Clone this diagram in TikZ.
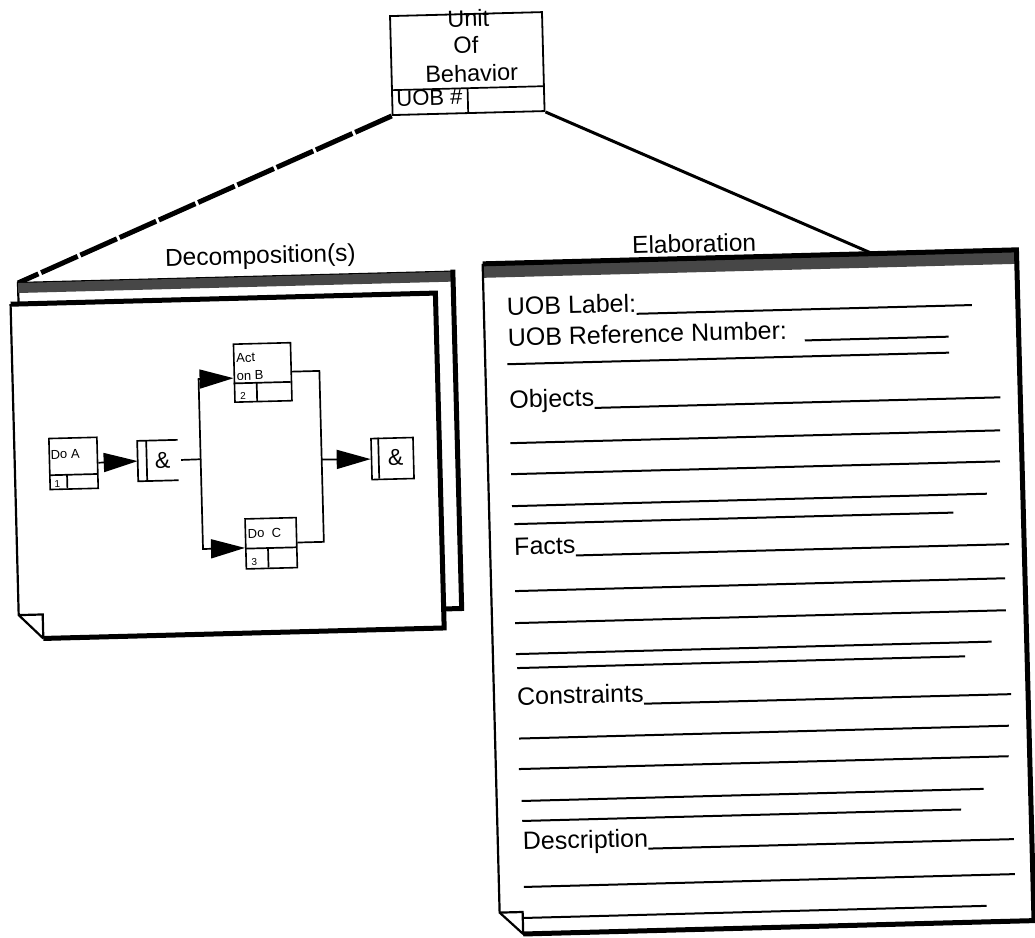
\documentclass[tikz,border=0pt]{standalone}
\usepackage{fontspec}
\setmainfont{Liberation Sans}
\usetikzlibrary{arrows.meta}
\newcommand\fsForm{\fontsize{25}{30}\selectfont}
\newcommand\fsHead{\fontsize{24.5}{29}\selectfont}
\newcommand\fsUob{\fontsize{23.5}{28}\selectfont}
\newcommand\fsNum{\fontsize{22}{26}\selectfont}
\newcommand\fsSmall{\fontsize{13}{16}\selectfont}
\newcommand\fsTiny{\fontsize{10}{12}\selectfont}
\newcommand\fsAmp{\fontsize{23}{27}\selectfont}
\begin{document}
\begin{tikzpicture}[x=1pt,y=-1pt,
  txt/.style={inner sep=0pt, anchor=base west},
  ctxt/.style={inner sep=0pt, anchor=base},
  box/.style={draw, line width=1.6pt, inner sep=0pt, anchor=north west},
  ln/.style={line width=1.7pt},
  arr/.style={line width=1.7pt, -{Triangle[length=34pt,width=19pt]}},
  fline/.style={line width=2pt},
  edgethin/.style={line width=2.2pt},
  edgethick/.style={line width=5pt},
  bandfill/.style={fill=black!72},
  conn/.style={line width=3pt},
  dconn/.style={line width=5pt, dash pattern=on 40pt off 3pt}]
\useasboundingbox[fill=white] (0,0) rectangle (1035,937);
\begin{scope}[rotate around={1.5:(517,468)}, transform shape]

% ---------- Unit of Behavior ----------
\node[box, line width=1.8pt, minimum width=152pt, minimum height=99pt] (uob) at (401,12) {};
\draw[ln] (401,87) -- (553,87);
\draw[ln] (477.5,87) -- (477.5,111);
\node[ctxt, font=\fsUob] (tunit) at (480,25.5) {Unit};
\node[ctxt, font=\fsUob] (tof) at (477,52) {Of};
\node[ctxt, font=\fsUob] (tbeh) at (482,80.5) {Behavior};
\node[txt, font=\fsNum] (tnum) at (406,103) {UOB \#};

% ---------- connectors ----------
\coordinate (backTL) at (23,270);
\coordinate (elabT) at (878,263);
\draw[dconn] (uob.south west) -- (backTL);
\draw[conn] (uob.south east) -- (elabT);

\node[ctxt, font=\fsHead] (tdec) at (266,257) {Decomposition(s)};
\node[ctxt, font=\fsHead] (tela) at (700,257) {Elaboration};

% ---------- Decomposition sheets ----------
\draw[edgethin, fill=white] (23,270) rectangle (458,607);
\fill[bandfill] (23,270) rectangle (458,280);
\draw[edgethick] (458,268) -- (458,607) -- (430,607);
\fill[white] (15,291) -- (440,291) -- (440,626) -- (39,626) -- (15,602) -- cycle;
\draw[edgethin] (15,291) -- (15,602) -- (39,626);
\draw[edgethin] (15,602) -- (39,602) -- (39,626);
\draw[edgethick] (15,291) -- (440,291) -- (440,626) -- (39,626);

% ---------- inner process diagram ----------
\node[box, minimum width=48pt, minimum height=51pt] (doa) at (49,425.5) {};
\draw[ln] (49,463) -- (97,463);
\draw[ln] (67,463) -- (67,476.5);
\node[txt, font=\fsSmall] (tdoa) at (51,447) {Do A};
\node[txt, font=\fsTiny] (ndoa) at (54,475) {1};

\node[inner sep=0pt, minimum width=40pt, minimum height=40pt, anchor=north west] (and1) at (138,431) {};
\draw[ln] (and1.north east) -- (and1.north west) -- (and1.south west) -- (and1.south east);
\draw[ln] (147,431) -- (147,471);
\node[font=\fsAmp, inner sep=0pt] (amp1) at (163,451) {\&};

\node[box, minimum width=57pt, minimum height=58pt] (actb) at (236,336) {};
\draw[ln] (236,376) -- (293,376);
\draw[ln] (259,376) -- (259,394);
\node[txt, font=\fsSmall] (tact1) at (239,355) {Act};
\node[txt, font=\fsSmall] (tact2) at (239,373) {on B};
\node[txt, font=\fsTiny] (nact) at (242,392) {2};

\node[box, minimum width=51pt, minimum height=50pt] (doc) at (243,511) {};
\draw[ln] (243,541.5) -- (294,541.5);
\draw[ln] (266,541.5) -- (266,561);
\node[txt, font=\fsSmall] (tdoc) at (246,531) {Do~~C};
\node[txt, font=\fsTiny] (ndoc) at (249,559) {3};

\node[box, minimum width=42pt, minimum height=41pt] (and2) at (371,434) {};
\draw[ln] (379,434) -- (379,475);
\node[font=\fsAmp, inner sep=0pt] (amp2) at (396,454.5) {\&};

\coordinate (fork) at (201,451);
\coordinate (join) at (322,454.5);
\draw[arr] (doa.east) -- (and1.west);
\draw[ln] ([xshift=3pt]and1.east) -- (fork);
\draw[arr] (fork) |- ([yshift=-5pt]actb.west);
\draw[arr] (fork) |- ([yshift=-4pt]doc.west);
\draw[ln] (actb.east) -| (join) |- (doc.east);
\draw[arr] (join) -- (and2.west);

% ---------- Elaboration sheet ----------
\fill[white] (488,263) -- (1022,263) -- (1022,934) -- (511,934) -- (488,912) -- cycle;
\fill[bandfill] (488,263) rectangle (1022,277);
\draw[edgethin] (488,263) -- (488,912) -- (511,934);
\draw[edgethin] (488,912) -- (511,912) -- (511,934);
\draw[edgethick] (488,263) -- (1022,263) -- (1022,934);
\draw[edgethick] (511,934) -- (1045,934);

% form
\node[txt, font=\fsForm] (flabel) at (511,315) {UOB Label:};
\draw[fline] ([yshift=-2pt]flabel.base east) -- (976,317);
\node[txt, font=\fsForm] (fref) at (511,346) {UOB Reference Number:};
\draw[fline] (808,348) -- (952,348);
\draw[fline] (510,364) -- (952,364);

\node[txt, font=\fsForm] (fobj) at (511,408) {Objects};
\draw[fline] ([yshift=-2pt]fobj.base east) -- (1002,410);
\draw[fline] (511,443) -- (1001,443);
\draw[fline] (511,474) -- (1000,474);
\draw[fline] (511,506) -- (986,506);
\draw[fline] (513,524) -- (952,524);

\node[txt, font=\fsForm] (ffact) at (512,555) {Facts};
\draw[fline] ([yshift=-2pt]ffact.base east) -- (1007,557);
\draw[fline] (512,591) -- (1002,591);
\draw[fline] (511,623) -- (1002,623);
\draw[fline] (511,654) -- (987,654);
\draw[fline] (512,668) -- (960,668);

\node[txt, font=\fsForm] (fcons) at (511,705) {Constraints};
\draw[fline] ([yshift=-2pt]fcons.base east) -- (1005,707);
\draw[fline] (512,738.5) -- (1002,738.5);
\draw[fline] (511,769) -- (1001,769);
\draw[fline] (513,801) -- (975,801);
\draw[fline] (513,821) -- (952,821);

\node[txt, font=\fsForm] (fdesc) at (513,850) {Description};
\draw[fline] ([yshift=-2pt]fdesc.base east) -- (1004,852);
\draw[fline] (513,887) -- (1004,887);
\draw[fline] (512,918) -- (975,918);

\end{scope}
\end{tikzpicture}
\end{document}
